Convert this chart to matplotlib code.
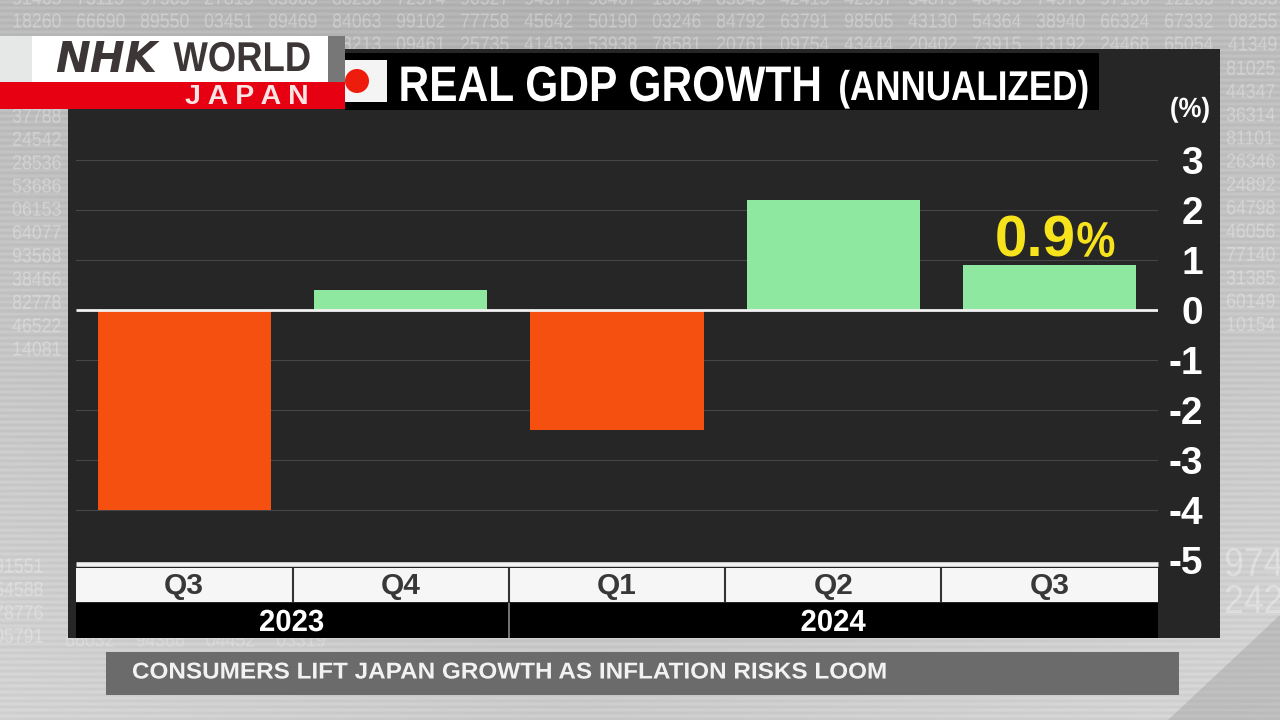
import numpy as np
import matplotlib
matplotlib.use("Agg")
import matplotlib.pyplot as plt
import matplotlib.patheffects as pe
from matplotlib.patches import Rectangle, Circle, Polygon
from matplotlib.transforms import Affine2D, Bbox

# ---- chart data ----
quarters = ["Q3", "Q4", "Q1", "Q2", "Q3"]
growth = [-4.0, 0.4, -2.4, 2.2, 0.9]
years = ["2023", "2024"]
y_ticks = [3, 2, 1, 0, -1, -2, -3, -4, -5]
title_main = "REAL GDP GROWTH"
title_sub = "(ANNUALIZED)"
headline = "CONSUMERS LIFT JAPAN GROWTH AS INFLATION RISKS LOOM"

# ---- decorative ticker digits in the backdrop ----
digits_row0 = "91465 73115 97503 27813 85663 88236 72574 90527 94577 90467 13034 85045 42415 42957 34879 48495 74976 97156 12263 73393".split()
digits_row1 = "18260 66690 89550 03451 89469 84063 99102 77758 45642 50190 03246 84792 63791 98505 43130 54364 38940 66324 67332 08255".split()
digits_row2 = "88213 09461 25735 41453 53938 78581 20761 09754 43444 20402 73915 13192 24468 65054 41349".split()
digits_left = "37788 24542 28536 53686 06153 64077 93568 38466 82778 46522 14081".split()
digits_right = "81025 44347 36314 81101 26346 24892 64798 46056 77140 31385 60149 10154".split()
digits_low = "91551 54588 78776 05791".split()
digits_under = "66032 94366 04452 03319".split()
digits_big = ["974", "242"]

SANS = ["Liberation Sans", "DejaVu Sans"]


class Squeeze(pe.AbstractPathEffect):
    """Scale a text's glyphs horizontally: no narrow face is installed."""
    def __init__(self, sx, anchor):
        super().__init__()
        self.sx, self.anchor = sx, anchor

    def draw_path(self, renderer, gc, tpath, affine, rgbFace=None):
        ext = tpath.get_extents()
        a = {"left": ext.x0, "center": (ext.x0 + ext.x1) / 2, "right": ext.x1}[self.anchor]
        m = Affine2D().translate(-a, 0).scale(self.sx, 1).translate(a, 0) + affine
        renderer.draw_path(gc, tpath, m, rgbFace)


def squeeze(t, sx):
    anchor = t.get_ha()
    t.set_path_effects([Squeeze(sx, anchor)])
    orig = t.get_window_extent

    def extent(renderer=None, dpi=None):
        b = orig(renderer, dpi)
        a = {"left": b.x0, "center": (b.x0 + b.x1) / 2, "right": b.x1}[anchor]
        return Bbox.from_extents(a + (b.x0 - a) * sx, b.y0, a + (b.x1 - a) * sx, b.y1)

    t.get_window_extent = extent
    return t


W, H = 1280, 720
fig = plt.figure(figsize=(W / 100, H / 100), dpi=100)

# backdrop in pixel coordinates
bg = fig.add_axes([0, 0, 1, 1], zorder=0)
bg.set_xlim(0, W)
bg.set_ylim(H, 0)
bg.axis("off")
yy, xx = np.mgrid[0:H, 0:W]
shade = 176 + 20 * np.abs(xx / W - 0.45) + 26 * (yy / H) + 5 * np.sin(yy * np.pi / 3.0)
shade = np.clip(shade, 0, 255) / 255
bg.imshow(shade, cmap="gray", vmin=0, vmax=1, extent=(0, W, H, 0), aspect="auto", zorder=0)
bg.add_patch(Polygon([(1280, 615), (1280, 720), (1168, 720)], fc="#8a8a8a", alpha=0.30, ec="none", zorder=1))


def digit(x, y, s, size=14.5, alpha=0.30):
    t = bg.text(x, y, s, color="white", alpha=alpha, fontsize=size, family=SANS, ha="left", va="center", zorder=1)
    squeeze(t, 0.88)


col_w = 64.0
for i, s in enumerate(digits_row0):
    digit(12 + i * col_w, -1, s)
for i, s in enumerate(digits_row1):
    digit(12 + i * col_w, 22, s)
for i, s in enumerate(digits_row2):
    digit(12 + (i + 5) * col_w, 45, s)
for i, s in enumerate(digits_left):
    digit(12, 117 + i * 23.3, s)
for i, s in enumerate(digits_right):
    digit(1226, 69 + i * 23.3, s)
for i, s in enumerate(digits_low):
    digit(-6, 567 + i * 23.3, s)
for i, s in enumerate(digits_under):
    digit(65 + i * col_w * 1.1, 641, s, alpha=0.22)
for i, s in enumerate(digits_big):
    digit(1224, 565 + i * 37, s, size=29, alpha=0.32)

# dark panel, title bar, table rows
bg.add_patch(Rectangle((68, 49), 1152, 589, fc="#262626", ec="none", zorder=2))
bg.add_patch(Rectangle((345, 53), 754, 57, fc="#000000", ec="none", zorder=3))
bg.add_patch(Rectangle((345, 60), 42, 42, fc="#f4f4f4", ec="none", zorder=4))
bg.add_patch(Circle((357, 81), 12, fc="#ee1c0c", ec="none", zorder=5))
bg.add_patch(Rectangle((76, 568), 1082, 34, fc="#f6f6f6", ec="none", zorder=3))
bg.add_patch(Rectangle((76, 603), 1082, 35, fc="#000000", ec="none", zorder=3))
for x in (293, 509, 725, 941):
    bg.plot([x, x], [568, 602], color="#333333", lw=1.5, zorder=4, solid_capstyle="butt")
bg.plot([508.5, 508.5], [603, 638], color="#8a8a8a", lw=1.2, zorder=4, solid_capstyle="butt")

squeeze(bg.text(398, 101, title_main, color="white", fontsize=36, weight="bold", family=SANS,
                ha="left", va="baseline", zorder=6), 0.85)
squeeze(bg.text(838, 100, title_sub, color="white", fontsize=30, weight="bold", family=SANS,
                ha="left", va="baseline", zorder=6), 0.84)
squeeze(bg.text(1190, 110, "(%)", color="white", fontsize=20, weight="bold", family=SANS,
                ha="center", va="center", zorder=6), 0.93)

squeeze(bg.text(291.5, 623, years[0], color="white", fontsize=22, weight="bold", family=SANS,
                ha="center", va="center", zorder=6), 0.96)
squeeze(bg.text(833, 623, years[1], color="white", fontsize=22, weight="bold", family=SANS,
                ha="center", va="center", zorder=6), 0.96)

# headline strip
bg.add_patch(Rectangle((106, 652), 1073, 43, fc="#6b6b6b", ec="none", zorder=3))
squeeze(bg.text(132, 672, headline, color="#f2f2f2", fontsize=16.5, weight="bold", family=SANS,
                ha="left", va="center", zorder=6), 1.06)

# main chart axes
ax = fig.add_axes([76 / W, (H - 560) / H, 1082 / W, 450 / H], zorder=1)
ax.patch.set_alpha(0)
ax.set_xlim(-0.5, 4.5)
ax.set_ylim(-5, 4)
for sp in ax.spines.values():
    sp.set_visible(False)
ax.set_axisbelow(True)
ax.yaxis.grid(True, color="#464646", lw=0.8)
ax.xaxis.grid(False)
ax.axhline(0, color="#f2f2f2", lw=2, zorder=4, solid_capstyle="butt")
ax.axhline(-5.07, color="#f2f2f2", lw=3.3, zorder=4, clip_on=False, solid_capstyle="butt")

x_pos = np.arange(len(quarters))
colors = ["#f5500f" if v < 0 else "#8fe8a0" for v in growth]
ax.bar(x_pos, growth, width=0.8, color=colors, zorder=3)

ax.set_xticks(x_pos)
ax.set_xticklabels(quarters)
ax.tick_params(axis="x", length=0, pad=19, labelsize=21.5, labelcolor="#383838")
for lab in ax.get_xticklabels():
    lab.set_va("center")
    lab.set_fontweight("bold")
    lab.set_family(SANS)

ax.yaxis.tick_right()
ax.set_yticks(y_ticks)
ax.set_yticklabels([str(v) for v in y_ticks])
ax.tick_params(axis="y", length=0, pad=32.5, labelsize=28, labelcolor="white")
for lab in ax.get_yticklabels():
    lab.set_ha("right")
    lab.set_fontweight("bold")
    lab.set_family(SANS)

# value label on the latest quarter
ax.annotate("0.9", xy=(x_pos[-1], growth[-1]), xytext=(19, 6), textcoords="offset points",
            color="#f7e31b", fontsize=42, weight="bold", family=SANS, ha="right", va="baseline", zorder=6)
squeeze(ax.annotate("%", xy=(x_pos[-1], growth[-1]), xytext=(19, 6), textcoords="offset points",
                    color="#f7e31b", fontsize=36, weight="bold", family=SANS, ha="left", va="baseline", zorder=6), 0.88)

# broadcaster logo
top = fig.add_axes([0, 0, 1, 1], zorder=3)
top.set_xlim(0, W)
top.set_ylim(H, 0)
top.axis("off")
top.add_patch(Rectangle((0, 36), 32, 46, fc="#e6e8e8", ec="none"))
top.add_patch(Rectangle((32, 36), 296, 46, fc="#ffffff", ec="none"))
top.add_patch(Rectangle((328, 36), 17, 46, fc="#777777", ec="none"))
top.add_patch(Rectangle((0, 82), 345, 27, fc="#e60012", ec="none"))
top.text(55, 60, "NHK", color="#3c3636", fontsize=30, weight="bold", style="italic",
         family="DejaVu Sans", ha="left", va="center")
squeeze(top.text(311, 60, "WORLD", color="#3c3636", fontsize=30, weight="bold", family=SANS,
                 ha="right", va="center"), 0.875)
top.text(309, 96.5, "J A P A N", color="#fbe4e4", fontsize=20.5, weight="bold", family=SANS, ha="right", va="center")

fig.savefig("out.png", dpi=100)
